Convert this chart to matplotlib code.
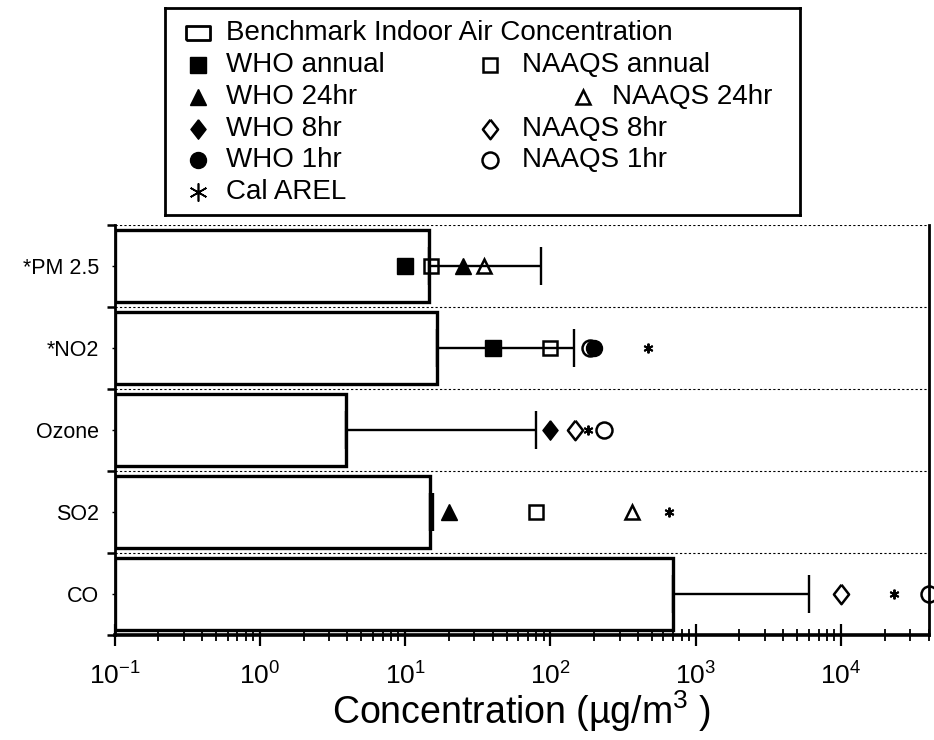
import numpy as np
import matplotlib
matplotlib.use('Agg')
import matplotlib.pyplot as plt
from matplotlib.ticker import LogLocator, NullFormatter, FixedLocator

plt.rcParams['font.family'] = ['Liberation Sans', 'DejaVu Sans']
plt.rcParams['mathtext.fontset'] = 'custom'
plt.rcParams['mathtext.rm'] = 'Liberation Sans'
plt.rcParams['mathtext.it'] = 'Liberation Sans'
plt.rcParams['axes.unicode_minus'] = False

# benchmark indoor concentrations (ug/m3), top row first
pollutants = ['*PM 2.5', '*NO2', 'Ozone', 'SO2', 'CO']
benchmark = [14.5, 16.7, 3.9, 14.8, 700]
upper = [86, 146, 80, 15.5, 6000]

# guideline values, nan where no standard
nan = np.nan
who_annual = [10, 40, nan, nan, nan]
naaqs_annual = [15, 100, nan, 80, nan]
who_24hr = [25, nan, nan, 20, nan]
naaqs_24hr = [35, nan, nan, 365, nan]
who_8hr = [nan, nan, 100, nan, nan]
naaqs_8hr = [nan, nan, 147, nan, 10000]
who_1hr = [nan, 200, nan, nan, nan]
naaqs_1hr = [nan, 188, 235, nan, 40000]
cal_arel = [nan, 470, 180, 660, 23000]

W, H = 934, 740
fig = plt.figure(figsize=(W / 100, H / 100), dpi=100)
ax = fig.add_axes([114.5 / W, 1 - 635 / H, (928.5 - 114.5) / W, (635 - 225) / H])

ypos = np.arange(len(pollutants))[::-1]
bench = np.array(benchmark)
ax.barh(ypos, bench - 0.1, left=0.1, height=0.866, facecolor='white',
        edgecolor='black', linewidth=2.4, zorder=2)
ax.errorbar(bench, ypos, xerr=[np.zeros_like(bench), np.array(upper) - bench],
            fmt='none', ecolor='black', elinewidth=1.7, capsize=14, capthick=1.7, zorder=3)

box_rect = [(-1.6, -1), (1.6, -1), (1.6, 1), (-1.6, 1), (-1.6, -1)]
diamond = [(0, 1), (0.78, 0), (0, -1), (-0.78, 0), (0, 1)]
series = [
    (who_annual, dict(marker='s', ms=11, mfc='black', mec='black')),
    (naaqs_annual, dict(marker='s', ms=10, mfc='none', mec='black', mew=1.8)),
    (who_24hr, dict(marker='^', ms=11, mfc='black', mec='black')),
    (naaqs_24hr, dict(marker='^', ms=10, mfc='none', mec='black', mew=1.8)),
    (who_8hr, dict(marker=diamond, ms=14, mfc='black', mec='black')),
    (naaqs_8hr, dict(marker=diamond, ms=14, mfc='none', mec='black', mew=1.8)),
    (who_1hr, dict(marker='o', ms=11.5, mfc='black', mec='black')),
    (naaqs_1hr, dict(marker='o', ms=11.5, mfc='none', mec='black', mew=1.8)),
    (cal_arel, dict(marker=(6, 2, 0), ms=7, mfc='black', mec='black', mew=1.4)),
]
for vals, style in series:
    ax.plot(vals, ypos, linestyle='none', zorder=4, clip_on=False, **style)

ax.set_xscale('log')
ax.set_xlim(0.1, 4e4)
ax.set_ylim(-0.5, 4.5)
ax.xaxis.set_major_locator(LogLocator(base=10, numticks=10))
ax.xaxis.set_minor_locator(LogLocator(base=10, subs=np.arange(2, 10), numticks=20))
ax.xaxis.set_minor_formatter(NullFormatter())
ax.tick_params(axis='x', which='major', direction='inout', length=16, width=1.6,
               labelsize=19, pad=12)
ax.tick_params(axis='x', which='minor', direction='inout', length=8, width=1.3)

ax.yaxis.set_major_locator(FixedLocator(np.arange(-0.5, 5, 1)))
ax.yaxis.set_major_formatter(NullFormatter())
ax.set_yticks(ypos, pollutants, minor=True)
ax.tick_params(axis='y', which='major', direction='out', length=6, width=1.8)
ax.tick_params(axis='y', which='minor', direction='out', length=2, width=1,
               labelsize=15.5, pad=9)
ax.grid(axis='y', which='major', color='black', linestyle=(0, (2, 2)), linewidth=0.8)
ax.set_axisbelow(True)

ax.spines['top'].set_visible(False)
ax.spines['left'].set_linewidth(2)
ax.spines['right'].set_linewidth(2)
ax.spines['bottom'].set_linewidth(2.6)

ax.set_xlabel('Concentration (µg/m$^3$ )', fontsize=27, labelpad=-1)

# legend box drawn in pixel coordinates
lax = fig.add_axes([165 / W, 1 - 215 / H, 635 / W, 207 / H])
lax.set_xlim(165, 800)
lax.set_ylim(215, 8)
lax.set_xticks([])
lax.set_yticks([])
for s in lax.spines.values():
    s.set_linewidth(2)

leg_items = [
    (198, 226, 33, 'Benchmark Indoor Air Concentration',
     dict(marker=box_rect, ms=17, mfc='white', mec='black', mew=2)),
    (198, 226, 65, 'WHO annual', series[0][1]),
    (490, 522, 65, 'NAAQS annual', series[1][1]),
    (198, 226, 97, 'WHO 24hr', series[2][1]),
    (583, 612, 97, 'NAAQS 24hr', series[3][1]),
    (198, 226, 129, 'WHO 8hr', series[4][1]),
    (490, 522, 129, 'NAAQS 8hr', series[5][1]),
    (198, 226, 160, 'WHO 1hr', series[6][1]),
    (490, 522, 160, 'NAAQS 1hr', series[7][1]),
    (198, 226, 192, 'Cal AREL', dict(marker=(6, 2, 0), ms=13, mec='black', mew=1.2)),
]
for mx, tx, ty, label, style in leg_items:
    lax.plot([mx], [ty], linestyle='none', **style)
    lax.text(tx, ty, label, fontsize=20, va='center', ha='left')

fig.savefig('out.png', dpi=100)
